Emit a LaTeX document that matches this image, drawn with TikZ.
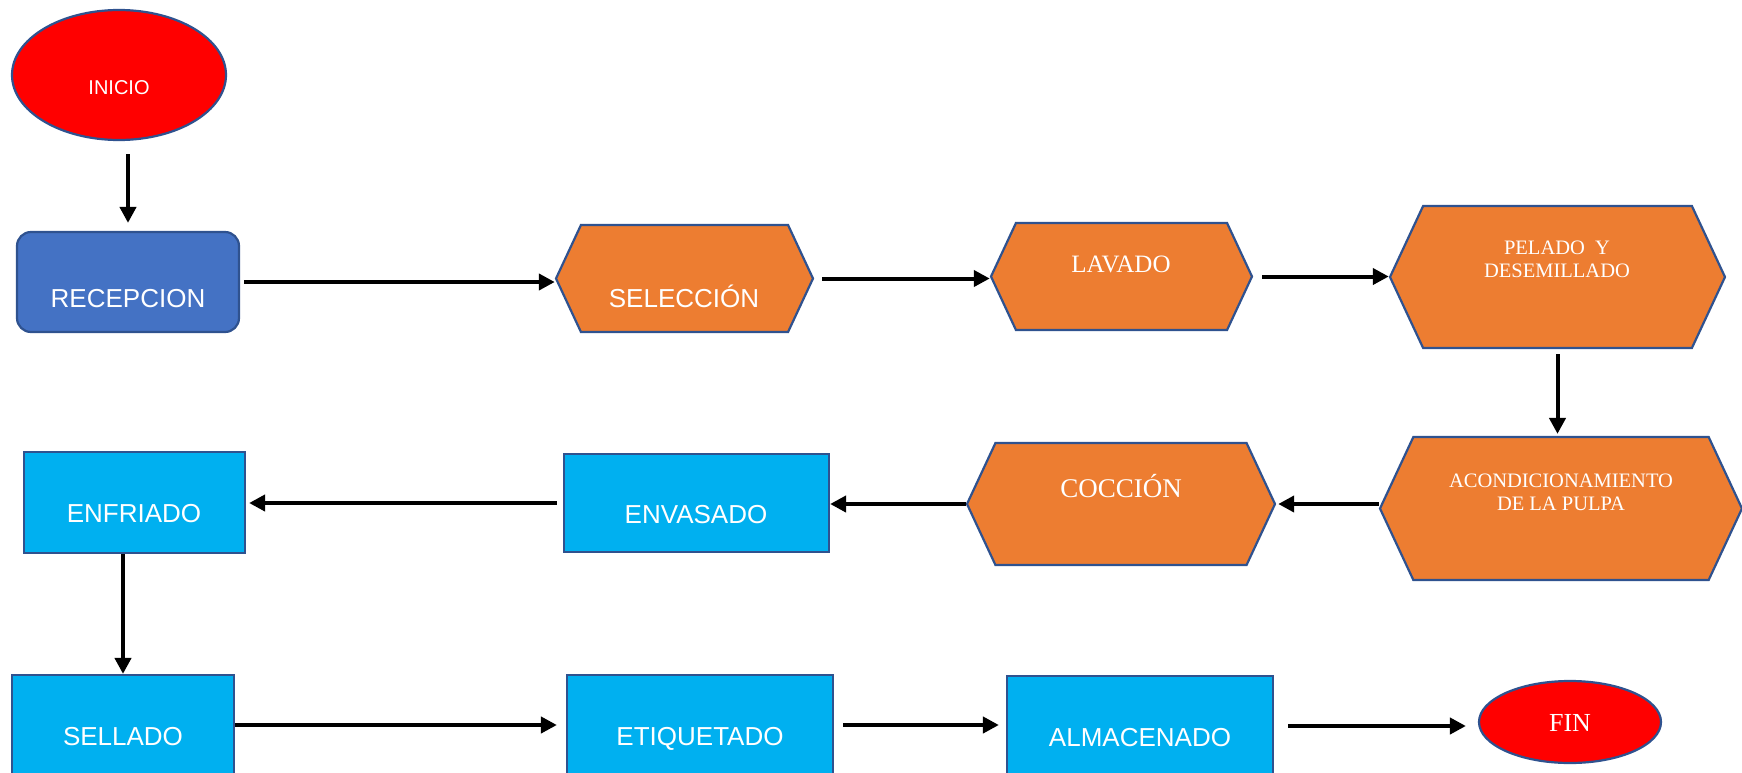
\documentclass[tikz,border=0pt]{standalone}
\usepackage{fontspec}
\setmainfont{Liberation Serif}
\setsansfont{Liberation Sans}
\usetikzlibrary{shapes.geometric,shapes.symbols,arrows.meta}

\definecolor{rojo}{HTML}{FF0000}
\definecolor{azulRecep}{HTML}{4472C4}
\definecolor{naranja}{HTML}{ED7D31}
\definecolor{celeste}{HTML}{00B0F0}
\definecolor{borde}{HTML}{2F528F}

\begin{document}
\begin{tikzpicture}[x=0.5pt,y=-0.5pt,
    linea/.style={draw=borde, line width=1.1pt},
    terminal/.style={linea, ellipse, fill=rojo, inner sep=0pt},
    proceso/.style={linea, signal, signal to=west and east, signal pointer angle=130, fill=naranja, inner sep=0pt},
    caja/.style={linea, rectangle, fill=celeste, inner sep=0pt},
    flecha/.style={line width=2pt, -{Triangle[length=8pt,width=8pt]}},
    sans/.style={text=white, inner sep=0pt, anchor=base, font=\sffamily\fontsize{13}{15}\selectfont},
    serif/.style={text=white, inner sep=0pt, align=center, font=\rmfamily\fontsize{10.25}{11.5}\selectfont}
]
    \useasboundingbox (0,0) rectangle (1742,772);
    \clip (0,0) rectangle (1742,772);

    % figuras
    \node[terminal, minimum width=107pt, minimum height=65pt] (inicio) at (119,75) {};
    \node[linea, fill=azulRecep, rounded corners=7pt, minimum width=111pt, minimum height=50pt, inner sep=0pt] (recep) at (128,282) {};
    \node[proceso, minimum width=128.5pt, minimum height=53.5pt] (sel) at (684.5,278.5) {};
    \node[proceso, minimum width=130.5pt, minimum height=53.5pt] (lav) at (1121.5,276.5) {};
    \node[proceso, minimum width=167.5pt, minimum height=71pt] (pel) at (1557.5,277) {};
    \node[proceso, minimum width=181pt, minimum height=71.5pt] (aco) at (1561,508.5) {};
    \node[proceso, minimum width=154pt, minimum height=61pt] (coc) at (1121,504) {};
    \node[caja, minimum width=132.5pt, minimum height=49pt] (env) at (696.5,503) {};
    \node[caja, minimum width=110.5pt, minimum height=50.5pt] (enf) at (134.5,502.5) {};
    \node[caja, minimum width=111pt, minimum height=50pt] (sell) at (123,725) {};
    \node[caja, minimum width=133pt, minimum height=50pt] (etiq) at (700,725) {};
    \node[caja, minimum width=133pt, minimum height=50pt] (alm) at (1140,726) {};
    \node[terminal, minimum width=91pt, minimum height=41pt] (fin) at (1570,722) {};

    % textos
    \node[sans, font=\sffamily\fontsize{10}{12}\selectfont] (tInicio) at (119,94) {INICIO};
    \node[sans] (tRecep) at (128,307) {RECEPCION};
    \node[sans] (tSel) at (684,307) {SELECCIÓN};
    \node[serif, anchor=base, font=\rmfamily\fontsize{12.5}{14}\selectfont] (tLav) at (1121,272) {LAVADO};
    \node[serif] (tPel) at (1557,259) {PELADO\ \ Y\\DESEMILLADO};
    \node[serif] (tAco) at (1561,492) {ACONDICIONAMIENTO\\DE LA PULPA};
    \node[serif, anchor=base, font=\rmfamily\fontsize{13.5}{15}\selectfont] (tCoc) at (1121,497) {COCCIÓN};
    \node[sans] (tEnv) at (696,523) {ENVASADO};
    \node[sans] (tEnf) at (134,522) {ENFRIADO};
    \node[sans] (tSell) at (123,745) {SELLADO};
    \node[sans] (tEtiq) at (700,745) {ETIQUETADO};
    \node[sans] (tAlm) at (1140,746) {ALMACENADO};
    \node[serif, anchor=base, font=\rmfamily\fontsize{13}{15}\selectfont] (tFin) at (1570,731) {FIN};

    % flechas
    \draw[flecha, shorten <=6.5pt, shorten >=4pt] (recep |- inicio.south) -- (recep.north);
    \draw[flecha, shorten <=2pt] (recep) -- (recep -| sel.west);
    \draw[flecha, shorten <=4pt] (sel) -- (sel -| lav.west);
    \draw[flecha, shorten <=4.5pt] (lav) -- (lav -| pel.west);
    \draw[flecha, shorten <=2.5pt, shorten >=1pt] (pel) -- (pel |- aco.north);
    \draw[flecha, shorten >=1pt] (coc.east -| aco.west) -- (coc.east);
    \draw[flecha] (coc) -- (coc -| env.east);
    \draw[flecha, shorten <=3pt, shorten >=1.5pt] (env) -- (env -| enf.east);
    \draw[flecha] (sell |- enf.south) -- (sell.north);
    \draw[flecha, shorten >=4.5pt] (sell) -- (sell -| etiq.west);
    \draw[flecha, shorten <=4.5pt, shorten >=3.5pt] (etiq) -- (etiq -| alm.west);
    \draw[flecha, shorten <=7pt, shorten >=6pt] (alm) -- (alm -| fin.west);

\end{tikzpicture}
\end{document}
